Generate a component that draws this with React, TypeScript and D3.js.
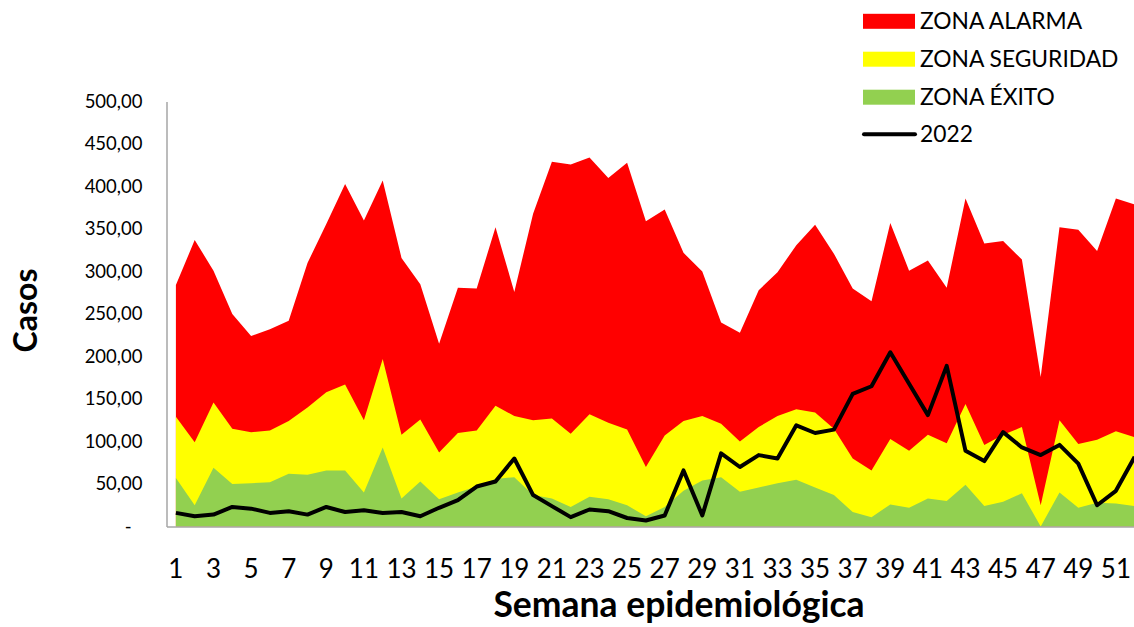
import React, { useEffect, useRef } from 'react';
import * as d3 from 'd3';

// semanas epidemiológicas 1..52
const weeks = d3.range(1, 53);

const zonaAlarma = [
  284, 337, 301, 250, 224, 232, 242, 310, 356, 403, 360, 407, 316,
  285, 215, 281, 280, 352, 276, 368, 429, 426, 434, 410, 428, 359,
  373, 322, 300, 240, 228, 278, 299, 331, 355, 321, 280, 265, 357,
  301, 313, 281, 386, 333, 336, 314, 176, 352, 349, 324, 386, 379,
];

const zonaSeguridad = [
  129, 99, 146, 115, 111, 113, 124, 140, 158, 167, 125, 197, 108,
  126, 87, 110, 113, 142, 130, 125, 127, 109, 132, 122, 114, 70,
  107, 124, 130, 121, 100, 117, 130, 138, 134, 115, 80, 66, 103,
  89, 108, 98, 144, 96, 108, 117, 25, 125, 97, 102, 112, 105,
];

const zonaExito = [
  57, 25, 69, 50, 51, 52, 62, 61, 66, 66, 40, 93, 33,
  53, 32, 40, 47, 56, 58, 37, 33, 23, 35, 32, 25, 12,
  23, 42, 54, 58, 41, 46, 51, 55, 46, 37, 17, 11, 26,
  22, 33, 30, 49, 24, 29, 39, 0, 40, 22, 28, 27, 24,
];

const casos2022 = [
  16, 12, 14, 23, 21, 16, 18, 14, 23, 17, 19, 16, 17,
  12, 22, 31, 47, 53, 80, 37, 24, 11, 20, 18, 10, 7,
  13, 66, 13, 86, 70, 84, 80, 119, 110, 114, 156, 165, 205,
  168, 131, 189, 89, 77, 111, 93, 84, 96, 74, 25, 42, 82,
];

const yTicks = [0, 50, 100, 150, 200, 250, 300, 350, 400, 450, 500];
const xTickWeeks = weeks.filter((w) => w % 2 === 1);

const zones = [
  { name: 'ZONA ALARMA', values: zonaAlarma, color: '#FF0000' },
  { name: 'ZONA SEGURIDAD', values: zonaSeguridad, color: '#FFFF00' },
  { name: 'ZONA ÉXITO', values: zonaExito, color: '#92D050' },
];

const FONT = 'Lato, "Open Sans", Arial, sans-serif';

export default function App() {
  const svgRef = useRef<SVGSVGElement>(null);

  useEffect(() => {
    if (!svgRef.current) return;
    document.body.style.margin = '0';

    const svg = d3.select(svgRef.current);
    svg.selectAll('*').remove();

    const left = 166.5;
    const step = 18.8;
    const x = d3.scaleBand<number>()
      .domain(weeks)
      .range([left, left + weeks.length * step]);
    const cx = (w: number) => (x(w) as number) + x.bandwidth() / 2;

    const y = d3.scaleLinear()
      .domain([0, 500])
      .range([526.5, 101.5]);

    // areas: alarma at the back, éxito in front
    zones.forEach((z) => {
      const area = d3.area<number>()
        .x((w) => cx(w))
        .y0(y(0))
        .y1((w, i) => y(z.values[i]));
      svg.append('path')
        .datum(weeks)
        .attr('d', area)
        .attr('fill', z.color);
    });

    // y axis
    svg.append('g')
      .attr('transform', `translate(${left},0)`)
      .call(
        d3.axisLeft(y)
          .tickValues(yTicks)
          .tickSize(0)
          .tickPadding(24)
          .tickFormat((d: any) => (d === 0 ? '-' : d.toFixed(2).replace('.', ',')))
      )
      .call((g: any) => g.select('.domain').attr('stroke', '#A6A6A6').attr('stroke-width', 1.5))
      .call((g: any) => g.selectAll('text')
        .attr('fill', '#000')
        .attr('font-family', FONT)
        .attr('font-size', '18.5px'))
      .call((g: any) => g.selectAll('.tick')
        .filter((d: any) => d === 0)
        .select('text')
        .attr('x', -35));

    // x axis
    svg.append('g')
      .attr('transform', `translate(0,${y(0)})`)
      .call(
        d3.axisBottom(x)
          .tickValues(xTickWeeks)
          .tickSize(0)
          .tickPadding(33)
      )
      .call((g: any) => g.select('.domain').attr('stroke', '#A6A6A6').attr('stroke-width', 1.5))
      .call((g: any) => g.selectAll('text')
        .attr('fill', '#000')
        .attr('font-family', FONT)
        .attr('font-size', '26px'));

    // 2022 line
    const line = d3.line<number>()
      .x((w) => cx(w))
      .y((w, i) => y(casos2022[i]));
    svg.append('path')
      .datum(weeks)
      .attr('d', line)
      .attr('fill', 'none')
      .attr('stroke', '#000')
      .attr('stroke-width', 4)
      .attr('stroke-linejoin', 'round');

    // axis titles
    svg.append('text')
      .attr('transform', 'translate(37,310.5) rotate(-90)')
      .attr('text-anchor', 'middle')
      .attr('font-family', FONT)
      .attr('font-weight', 'bold')
      .attr('font-size', '32px')
      .attr('fill', '#000')
      .text('Casos');

    svg.append('text')
      .attr('x', 679)
      .attr('y', 617)
      .attr('text-anchor', 'middle')
      .attr('font-family', FONT)
      .attr('font-weight', 'bold')
      .attr('font-size', '35.5px')
      .attr('fill', '#000')
      .text('Semana epidemiológica');

    // legend
    const legend = svg.append('g').attr('transform', 'translate(863,0)');
    const rowY = [21.3, 59.2, 97.2, 134.3];
    zones.forEach((z, i) => {
      legend.append('rect')
        .attr('x', 0)
        .attr('y', rowY[i] - 7.5)
        .attr('width', 52)
        .attr('height', 15)
        .attr('fill', z.color);
      legend.append('text')
        .attr('x', 57)
        .attr('y', rowY[i] + 8)
        .attr('font-family', FONT)
        .attr('font-size', '22.8px')
        .attr('fill', '#000')
        .text(z.name);
    });
    legend.append('line')
      .attr('x1', 1)
      .attr('x2', 52)
      .attr('y1', rowY[3])
      .attr('y2', rowY[3])
      .attr('stroke', '#000')
      .attr('stroke-width', 4)
      .attr('stroke-linecap', 'round');
    legend.append('text')
      .attr('x', 57)
      .attr('y', rowY[3] + 8)
      .attr('font-family', FONT)
      .attr('font-size', '22.8px')
      .attr('fill', '#000')
      .text('2022');
  }, []);

  return (
    <svg
      ref={svgRef}
      width={1134}
      height={627}
      style={{ display: 'block', overflow: 'hidden' }}
    />
  );
}
